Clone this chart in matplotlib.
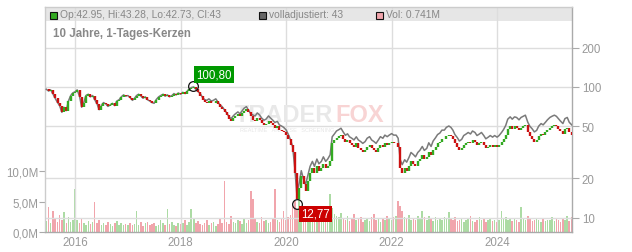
import numpy as np
import pandas as pd
import matplotlib
matplotlib.use('Agg')
import matplotlib.pyplot as plt
from matplotlib.patches import Rectangle
from matplotlib.ticker import NullLocator

plt.rcParams['font.family'] = ['Liberation Sans', 'DejaVu Sans']

# Halbmonatliche Schlusskurse (Juni 2015 - Juni 2025)
dates = pd.date_range('2015-06-15', '2025-06-01', freq='SMS')

closes = [
    # 2015
    96, 93, 95, 88, 82, 76, 72, 64, 70, 66, 78, 86, 90,
    # 2016
    92, 95, 84, 70, 76, 86, 88, 84, 86, 80, 74, 67,
    72, 76, 74, 71, 73, 75, 72, 78, 80, 84, 87, 85,
    # 2017
    86, 83, 79, 82, 86, 88, 85, 82, 84, 80, 78, 76,
    75, 80, 84, 86, 88, 85, 87, 84, 86, 89, 87, 90,
    # 2018
    88, 91, 89, 93, 96, 99, 100, 96, 92, 86, 80, 77,
    76, 78, 75, 76, 78, 74, 70, 68, 64, 61, 57, 55,
    # 2019
    58, 60, 62, 60, 63, 66, 68, 64, 60, 56, 55, 58,
    56, 53, 51, 52, 55, 53, 51, 49, 50, 47, 46, 45,
    # 2020
    43, 40, 36, 32, 22, 14, 17, 21, 18, 16, 19, 22,
    24, 22, 25, 23, 24, 26, 24, 25, 27, 37, 39, 41,
    # 2021
    42, 43, 40, 38, 39, 37, 36, 35, 37, 34, 33, 32,
    33, 35, 36, 34, 33, 32, 34, 36, 35, 37, 36, 37,
    # 2022
    38, 37, 37, 35, 24, 22, 24, 23, 25, 27, 26, 25,
    27, 28, 30, 28, 29, 32, 30, 33, 35, 37, 38, 40,
    # 2023
    40, 42, 43, 42, 40, 37, 35, 33, 34, 36, 37, 38,
    37, 39, 38, 36, 37, 38, 36, 34, 35, 36, 35, 36,
    # 2024
    35, 36, 38, 40, 43, 48, 50, 48, 50, 49, 47, 49,
    50, 51, 45, 42, 40, 38, 39, 42, 44, 43, 45, 47,
    # 2025
    49, 50, 51, 50, 48, 46, 44, 48, 49, 45, 43,
]

# Volumen in Mio. Stueck
volume = [
    1.8, 4.1, 1.5, 3.5, 2.2, 1.6, 2.8, 1.9, 3.2, 1.4, 2.5, 1.7, 2.0,
    7.0, 1.9, 1.5, 2.2, 1.4, 1.2, 1.8, 1.3, 1.6, 4.9, 1.5, 2.0,
    1.2, 1.4, 1.1, 1.6, 1.3, 1.0, 1.5, 1.8, 1.2, 1.4, 1.1, 1.3,
    1.2, 1.5, 1.1, 1.3, 3.5, 1.2, 1.6, 1.0, 1.4, 1.7, 1.1, 1.3,
    1.5, 1.0, 1.2, 1.9, 1.4, 1.1, 3.8, 1.3, 1.6, 1.2, 1.0, 1.4,
    1.3, 1.5, 2.0, 1.2, 1.6, 3.8, 2.2, 1.4, 1.8, 1.3, 1.1, 1.5,
    1.9, 1.2, 1.4, 1.6, 1.0, 1.3, 2.1, 1.5, 8.4, 1.7, 1.3, 2.6,
    1.6, 1.4, 2.0, 1.8, 1.3, 2.2, 1.5, 1.9, 6.8, 5.4, 2.1, 1.6,
    1.4, 2.4, 1.8, 2.0, 1.5, 1.7, 2.3, 7.0, 1.9, 1.6, 2.2, 3.5,
    2.0, 2.4, 2.8, 4.2, 5.1, 3.8, 6.0, 3.2, 2.6, 2.9, 2.2, 2.5,
    1.9, 2.4, 2.0, 2.7, 2.1, 3.9, 2.3, 2.8, 6.2, 4.0, 3.0, 2.6,
    2.4, 3.1, 2.2, 2.0, 2.6, 1.8, 2.3, 2.9, 1.9, 2.1, 2.5, 1.7,
    2.0, 2.2, 1.8, 2.4, 2.9, 1.9, 2.1, 1.6, 2.3, 2.0, 2.7, 2.2,
    2.0, 2.4, 2.6, 5.1, 4.3, 3.4, 2.5, 2.2, 2.8, 2.0, 2.3, 1.9,
    2.6, 2.1, 3.5, 2.4, 2.0, 2.7, 2.2, 1.8, 2.5, 2.0, 2.3, 1.9,
    2.4, 2.1, 3.3, 2.2, 1.9, 2.5, 1.8, 2.0, 2.3, 1.7, 1.9, 2.2,
    2.6, 1.8, 1.6, 2.0, 2.4, 1.9, 2.1, 1.7, 2.0, 2.3, 1.8, 1.9,
    1.7, 2.0, 3.5, 2.2, 2.4, 1.9, 2.1, 1.8, 2.3, 2.0, 1.7, 4.1,
    2.2, 1.9, 2.6, 2.1, 1.8, 2.0, 2.3, 1.9, 1.7, 2.1, 1.8, 2.0,
    1.9, 2.5, 1.8, 2.1, 2.0, 1.7, 2.2, 1.9, 2.6, 1.8, 2.4,
]

# Dividenden-Anpassung fuer die volladjustierte Linie
div_dates = ['2018-05-15', '2019-05-15', '2020-05-15', '2021-05-15',
             '2022-05-15', '2023-05-15', '2024-05-15']
div_factor = [1.04, 1.05, 1.03, 1.03, 1.01, 1.01, 1.01]

peak_date, peak_val = pd.Timestamp('2018-03-28'), 100.80
low_date, low_val = pd.Timestamp('2020-03-18'), 12.77

price_ticks = [10, 20, 50, 100, 200]
vol_ticks = [0, 5, 10]
vol_labels = ['0,0M', '5,0M', '10,0M']
years = [2016, 2018, 2020, 2022, 2024]

assert len(closes) == len(dates) == len(volume)

closes = np.array(closes, dtype=float)
opens = np.r_[closes[0], closes[:-1]]
up = closes >= opens

adj = np.ones(len(dates))
for d, f in zip(div_dates, div_factor):
    adj[dates >= pd.Timestamp(d)] *= f
adj_close = closes * adj

fig = plt.figure(figsize=(6.32, 2.53), dpi=100)
ax = fig.add_axes([45 / 632, 20 / 253, 527 / 632, 225 / 253])
axv = ax.twinx()
axv.set_zorder(0)
ax.set_zorder(1)
ax.patch.set_visible(False)

# Volumen
vcol = np.where(up, '#acdba4', '#f1a5ac')
axv.bar(dates, volume, width=11, color=vcol, linewidth=0)
axv.set_ylim(0, 36.9)
axv.set_yticks(vol_ticks)
axv.set_yticklabels(vol_labels)
axv.yaxis.tick_left()
axv.tick_params(axis='y', length=4, color='#aaaaaa', labelcolor='#999999',
                labelsize=8.3, pad=1)
for s in axv.spines.values():
    s.set_visible(False)

# Kurse
ax.set_yscale('log')
ax.set_ylim(7.8, 408)
ax.plot(dates, adj_close, color='#7a7a7a', lw=1.1, zorder=3)
ax.vlines(dates[~up], opens[~up], closes[~up], color='#cc1111', lw=1.7, zorder=4)
ax.vlines(dates[up], opens[up], closes[up], color='#33aa22', lw=1.7, zorder=4)

ax.set_xlim(pd.Timestamp('2015-06-06'), pd.Timestamp('2025-06-03'))
ax.set_xticks([pd.Timestamp(f'{y}-01-01') for y in years])
ax.set_xticklabels([str(y) for y in years])
ax.tick_params(axis='x', length=0, labelcolor='#999999', labelsize=8.3, pad=3)

ax.yaxis.tick_right()
ax.set_yticks(price_ticks)
ax.set_yticklabels([str(t) for t in price_ticks])
ax.yaxis.set_minor_locator(NullLocator())
ax.tick_params(axis='y', length=5, color='#aaaaaa', labelcolor='#999999',
               labelsize=8.3, pad=2)

ax.grid(True, color='#dddddd', lw=1.0)
ax.set_axisbelow(True)
for name, s in ax.spines.items():
    s.set_color('#cccccc' if name in ('top', 'left') else '#aaaaaa')
    s.set_linewidth(1.0)

# Legendenband
ax.add_patch(Rectangle((0, 1 - 14 / 225), 1, 14 / 225, transform=ax.transAxes,
                       facecolor='#e6e6e6', edgecolor='none', zorder=0.2))

ax.text(8 / 527, 1 - 25.5 / 225, '10 Jahre, 1-Tages-Kerzen', transform=ax.transAxes,
        fontsize=8.3, fontweight='bold', color='#888888', va='center', ha='left')

# Wasserzeichen
ax.text(235 / 632, 1 - 116 / 253, 'TRADER', transform=fig.transFigure, fontsize=17,
        fontweight='bold', color='#e8e8e8', va='center', ha='left', zorder=1)
ax.text(335 / 632, 1 - 116 / 253, 'FOX', transform=fig.transFigure, fontsize=17,
        fontweight='bold', color='#f8d4d4', va='center', ha='left', zorder=1)
ax.text(240 / 632, 1 - 130 / 253, 'REALTIME   ANALYSE   SCREENING', transform=fig.transFigure,
        fontsize=4, color='#e6e6e6', va='center', ha='left', zorder=1)

# Hoch/Tief
ax.plot([peak_date], [peak_val], 'o', mfc='none', mec='#111111', ms=7, mew=0.9, zorder=5)
ax.annotate(f'{peak_val:.2f}'.replace('.', ','), xy=(peak_date, peak_val),
            xytext=(3, 6), textcoords='offset pixels', ha='left', va='bottom',
            color='white', fontsize=8.3,
            bbox=dict(boxstyle='square,pad=0.2', fc='#009900', ec='none'), zorder=6)
ax.plot([low_date], [low_val], 'o', mfc='none', mec='#111111', ms=7, mew=0.9, zorder=5)
ax.annotate(f'{low_val:.2f}'.replace('.', ','), xy=(low_date, low_val),
            xytext=(4, -4), textcoords='offset pixels', ha='left', va='top',
            color='white', fontsize=8.3,
            bbox=dict(boxstyle='square,pad=0.2', fc='#cc0000', ec='none'), zorder=6)

# Legendeneintraege
legend_items = [
    (50, '#33aa22', 'Op:42.95, Hi:43.28, Lo:42.73, Cl:43'),
    (259, '#666666', 'volladjustiert: 43'),
    (376, '#f1a5ac', 'Vol: 0.741M'),
]
for x, c, label in legend_items:
    fig.patches.append(Rectangle((x / 632, 1 - 19.5 / 253), 7 / 632, 7 / 253,
                                 transform=fig.transFigure, facecolor=c,
                                 edgecolor='#111111', lw=0.8))
    fig.text((x + 10) / 632, 1 - 15.5 / 253, label, fontsize=7.4, color='#888888',
             va='center', ha='left')

fig.savefig('out.png', dpi=100)
